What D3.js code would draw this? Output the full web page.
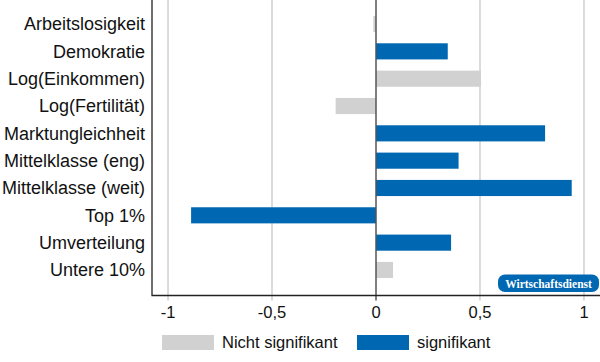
<!DOCTYPE html>
<html>
<head>
<meta charset="utf-8">
<script src="https://cdn.jsdelivr.net/npm/d3@7"></script>
<style>
  body { margin: 0; background: #fff; }
  svg text { font-family: "Liberation Sans", Arial, sans-serif; }
</style>
</head>
<body>
<div id="chart"></div>
<script>
// data
const categories = ['Arbeitslosigkeit', 'Demokratie', 'Log(Einkommen)', 'Log(Fertilität)',
  'Marktungleichheit', 'Mittelklasse (eng)', 'Mittelklasse (weit)', 'Top 1%', 'Umverteilung', 'Untere 10%']
const values = [-0.013, 0.345, 0.505, -0.194, 0.813, 0.397, 0.941, -0.889, 0.361, 0.082]
const significant = [false, true, false, false, true, true, true, true, true, false]
const tickValues = [-1, -0.5, 0, 0.5, 1]
const legendLabels = ['Nicht signifikant', 'signifikant']

const width = 600, height = 362
const left = 152, right = 600, bottom = 295.5
const blue = '#0067b3', gray = '#d1d1d1'

const svg = d3.select('#chart').append('svg').attr('width', width).attr('height', height)

const x = d3.scaleLinear().domain([-1.077, 1.077]).range([left, right])
const y = d3.scaleBand().domain(categories).range([10.5, 283.5]).paddingInner(0.41).paddingOuter(0.2)

// grid lines (extend a little below the axis like ticks)
svg.append('g').selectAll('line')
  .data(tickValues.filter(d => d !== 0))
  .enter().append('line')
  .attr('x1', d => x(d)).attr('x2', d => x(d))
  .attr('y1', 0).attr('y2', bottom + 5)
  .attr('stroke', '#c8c8c8').attr('stroke-width', 1.3)

// bars
svg.append('g').selectAll('rect')
  .data(values)
  .enter().append('rect')
  .attr('x', d => x(Math.min(0, d)))
  .attr('width', d => Math.abs(x(d) - x(0)))
  .attr('y', (d, i) => y(categories[i]))
  .attr('height', y.bandwidth())
  .attr('fill', (d, i) => significant[i] ? blue : gray)

// zero line
svg.append('line')
  .attr('x1', x(0)).attr('x2', x(0)).attr('y1', 0).attr('y2', bottom + 5)
  .attr('stroke', '#555').attr('stroke-width', 1.5)

// frame: left + bottom
svg.append('path')
  .attr('d', `M${left},0V${bottom}H${right}`)
  .attr('fill', 'none').attr('stroke', '#222').attr('stroke-width', 1.3)

// category labels
svg.append('g').selectAll('text')
  .data(categories)
  .enter().append('text')
  .attr('x', 145)
  .attr('y', d => y(d) + y.bandwidth() / 2)
  .attr('dy', '0.35em')
  .attr('text-anchor', 'end')
  .attr('font-size', 18)
  .attr('fill', '#111')
  .text(d => d)

// x tick labels
const fmt = d => String(d).replace('.', ',')
svg.append('g').selectAll('text')
  .data(tickValues)
  .enter().append('text')
  .attr('x', d => x(d))
  .attr('y', 312)
  .attr('dy', '0.35em')
  .attr('text-anchor', 'middle')
  .attr('font-size', 16.5)
  .attr('fill', '#111')
  .text(fmt)

// legend
const legend = svg.append('g')
const legendX = [162, 357]
legend.selectAll('rect')
  .data(legendLabels)
  .enter().append('rect')
  .attr('x', (d, i) => legendX[i]).attr('y', 335)
  .attr('width', 52).attr('height', 15)
  .attr('fill', (d, i) => i ? blue : gray)
legend.selectAll('text')
  .data(legendLabels)
  .enter().append('text')
  .attr('x', (d, i) => legendX[i] + 60).attr('y', 342.5)
  .attr('dy', '0.35em')
  .attr('font-size', 16.5)
  .attr('fill', '#111')
  .text(d => d)

// watermark
const wm = svg.append('g')
wm.append('rect')
  .attr('x', 498).attr('y', 274.5).attr('width', 101).attr('height', 17.5)
  .attr('rx', 7).attr('fill', blue)
wm.append('text')
  .attr('x', 548.5).attr('y', 283.5).attr('dy', '0.35em')
  .attr('text-anchor', 'middle')
  .style('font-family', '"Liberation Serif", "DejaVu Serif", serif')
  .attr('font-size', 11.5).attr('font-weight', 'bold')
  .attr('fill', '#fff')
  .text('Wirtschaftsdienst')
</script>
</body>
</html>
